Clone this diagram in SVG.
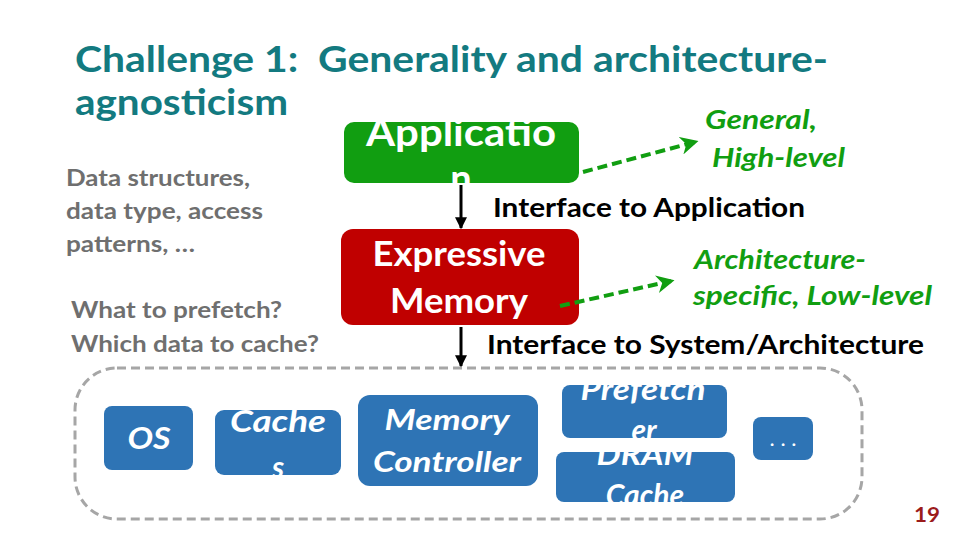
<svg xmlns="http://www.w3.org/2000/svg" width="960" height="540" viewBox="0 0 960 540">
<defs>
<style>
.t{font-family:Lato,"Open Sans","Liberation Sans",sans-serif;font-weight:bold}
.title{fill:#137a80;font-size:37px}
.grey{fill:#6f6f6f;font-size:22px}
.blk{fill:#000;font-size:27px}
.gr{fill:#119e11;font-size:26px;font-style:italic}
.wt{fill:#fff;text-anchor:middle}
.it{font-style:italic}
.blue{fill:#2e74b5}
</style>
<marker id="ah" viewBox="0 0 10 10" refX="9" refY="5" markerWidth="4" markerHeight="4" orient="auto"><path d="M0,0L10,5L0,10z" fill="#000"/></marker>
<marker id="gh" viewBox="0 0 10 10" refX="8" refY="5" markerWidth="4.5" markerHeight="4.5" orient="auto"><path d="M0,0L10,5L0,10L3,5z" fill="#119e11"/></marker>
<clipPath id="c1"><rect x="344" y="122" width="235" height="61" rx="10"/></clipPath>
</defs>
<rect width="960" height="540" fill="#fff"/>
<g id="title" class="t title">
<text x="75" y="72" xml:space="preserve" textLength="753" lengthAdjust="spacingAndGlyphs">Challenge 1:  Generality and architecture-</text>
<text x="75" y="115" textLength="213" lengthAdjust="spacingAndGlyphs">agnosticism</text>
</g>
<g id="notes" class="t grey">
<text x="66" y="186" textLength="184" lengthAdjust="spacingAndGlyphs">Data structures,</text>
<text x="66" y="219" textLength="197" lengthAdjust="spacingAndGlyphs">data type, access</text>
<text x="66" y="252" textLength="129" lengthAdjust="spacingAndGlyphs">patterns, …</text>
<text x="71" y="318" style="font-size:23px" textLength="211" lengthAdjust="spacingAndGlyphs">What to prefetch?</text>
<text x="71" y="352" style="font-size:23px" textLength="248" lengthAdjust="spacingAndGlyphs">Which data to cache?</text>
</g>
<g id="container"><rect x="75" y="368" width="787" height="151" rx="42" fill="none" stroke="#a6a6a6" stroke-width="3" stroke-dasharray="9,5"/></g>
<g id="application">
<rect x="344" y="122" width="235" height="61" rx="10" fill="#119e11"/>
<g clip-path="url(#c1)" class="t wt" style="font-size:38px">
<text x="461" y="146" textLength="190" lengthAdjust="spacingAndGlyphs">Applicatio</text>
<text x="461" y="192">n</text>
</g>
</g>
<g id="expressive">
<rect x="341" y="229" width="238" height="96" rx="12" fill="#c00000"/>
<text class="t wt" x="459" y="266" style="font-size:34px" textLength="173" lengthAdjust="spacingAndGlyphs">Expressive</text>
<text class="t wt" x="459" y="313" style="font-size:34px" textLength="138" lengthAdjust="spacingAndGlyphs">Memory</text>
</g>
<g id="labels" class="t">
<text class="blk" x="493" y="217" textLength="312" lengthAdjust="spacingAndGlyphs">Interface to Application</text>
<text class="blk" x="487" y="354" textLength="437" lengthAdjust="spacingAndGlyphs">Interface to System/Architecture</text>
<text class="gr" x="705" y="129" textLength="112" lengthAdjust="spacingAndGlyphs">General,</text>
<text class="gr" x="712" y="167" textLength="133" lengthAdjust="spacingAndGlyphs">High-level</text>
<text class="gr" x="694" y="269" textLength="172" lengthAdjust="spacingAndGlyphs">Architecture-</text>
<text class="gr" x="693" y="305" textLength="239" lengthAdjust="spacingAndGlyphs">specific, Low-level</text>
</g>
<g id="os"><rect class="blue" x="104" y="406" width="89" height="64" rx="8"/><text class="t wt it" x="149" y="449" style="font-size:30px" textLength="43" lengthAdjust="spacingAndGlyphs">OS</text></g>
<g id="caches"><rect class="blue" x="215" y="410" width="126" height="65" rx="9"/>
<svg x="215" y="410" width="126" height="65"><text class="t wt it" x="63" y="22" style="font-size:30px" textLength="96" lengthAdjust="spacingAndGlyphs">Cache</text><text class="t wt it" x="63" y="68" style="font-size:30px">s</text></svg></g>
<g id="memctrl"><rect class="blue" x="358" y="395" width="180" height="91" rx="12"/><text class="t wt it" x="447" y="430" style="font-size:29px" textLength="125" lengthAdjust="spacingAndGlyphs">Memory</text><text class="t wt it" x="447" y="472" style="font-size:29px" textLength="148" lengthAdjust="spacingAndGlyphs">Controller</text></g>
<g id="prefetcher"><rect class="blue" x="562" y="385" width="165" height="53" rx="8"/>
<svg x="562" y="385" width="165" height="53"><text class="t wt it" x="81" y="15" style="font-size:30px" textLength="125" lengthAdjust="spacingAndGlyphs">Prefetch</text><text class="t wt it" x="82" y="56" style="font-size:30px">er</text></svg></g>
<g id="dramcache"><rect class="blue" x="556" y="452" width="179" height="50" rx="8"/>
<svg x="556" y="452" width="179" height="50"><text class="t wt it" x="89" y="13" style="font-size:30px" textLength="97" lengthAdjust="spacingAndGlyphs">DRAM</text><text class="t wt it" x="89" y="54" style="font-size:30px">Cache</text></svg></g>
<g id="more"><rect class="blue" x="753" y="417" width="60" height="43" rx="8"/><text class="t wt" x="783" y="446" style="font-size:22px;font-weight:normal" xml:space="preserve">. . .</text></g>
<g id="connectors">
<line x1="461" y1="185" x2="461" y2="228" stroke="#000" stroke-width="3" marker-end="url(#ah)"/>
<line x1="461" y1="327" x2="461" y2="366" stroke="#000" stroke-width="3" marker-end="url(#ah)"/>
<line x1="583" y1="172" x2="695" y2="142" stroke="#119e11" stroke-width="4" stroke-dasharray="10,5" marker-end="url(#gh)"/>
<line x1="560" y1="306" x2="671" y2="281" stroke="#119e11" stroke-width="4" stroke-dasharray="10,5" marker-end="url(#gh)"/>
</g>
<text class="t" x="914" y="522" style="font-size:20px;fill:#9b1b1b" textLength="26" lengthAdjust="spacingAndGlyphs">19</text>
</svg>
